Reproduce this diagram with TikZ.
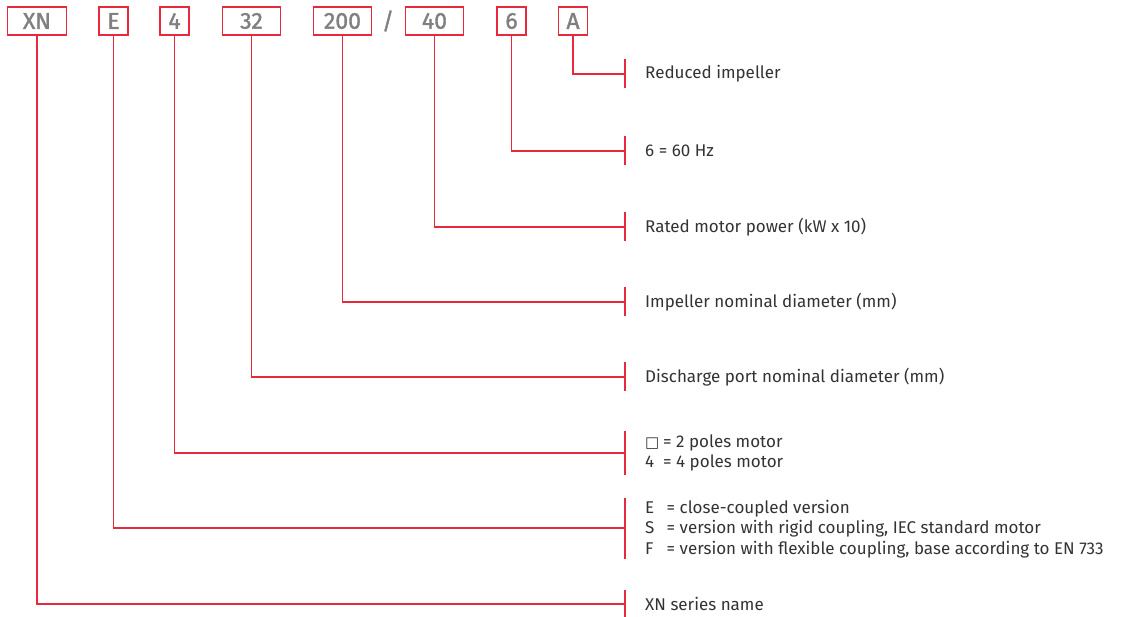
\documentclass[tikz,border=0pt]{standalone}
\usepackage{fontspec}
\setmainfont{Fira Sans}
\newfontfamily\symfont{DejaVu Sans}
\newfontfamily\codefont[FakeBold=1.5]{Fira Sans}
\definecolor{codered}{HTML}{E8283C}
\definecolor{codegray}{HTML}{808080}
\definecolor{textgray}{HTML}{333333}
\begin{document}
\begin{tikzpicture}[x=1pt,y=-1pt,
  codebox/.style={draw=codered,line width=1.4pt,minimum height=28pt,inner sep=0pt,
    text=codegray,font=\codefont\fontsize{23}{25}\selectfont},
  narrow/.style={codebox,minimum width=29pt},
  wide/.style={codebox,minimum width=58.5pt},
  lbl/.style={anchor=west,align=left,inner sep=0pt,text=textgray,
    font=\fontsize{17}{20.5}\selectfont},
  conn/.style={draw=codered,line width=1.4pt},
]
\useasboundingbox (0,0) rectangle (1122,617);
% code boxes
\node[wide]   (xn)  at (37,21)    {XN};
\node[narrow] (e)   at (113.5,21) {E};
\node[narrow] (p4)  at (174.5,21) {4};
\node[wide]   (d32) at (251.5,21) {32};
\node[wide]   (d200) at (342.5,21) {200};
\node[text=codegray,font=\codefont\fontsize{23}{25}\selectfont,inner sep=0pt] (sl) at (388,21) {/};
\node[wide]   (k40) at (434.5,21) {40};
\node[narrow] (hz)  at (511.5,21) {6};
\node[narrow] (ra)  at (573,21)   {A};
% labels
\node[lbl] (la)  at (645,74)  {Reduced impeller};
\node[lbl] (lhz) at (645,151) {6 = 60 Hz};
\node[lbl] (lk)  at (645,227) {Rated motor power (kW x 10)};
\node[lbl] (ld2) at (645,302) {Impeller nominal diameter (mm)};
\node[lbl] (ld3) at (645,377) {Discharge port nominal diameter (mm)};
\node[lbl] (lp)  at (645,453) {\makebox[18pt][l]{{\symfont\fontsize{15}{18}\selectfont □}}= 2 poles motor\\\makebox[18pt][l]{4}= 4 poles motor};
\node[lbl] (le)  at (645,529) {\makebox[21.5pt][l]{E}= close-coupled version\\\makebox[21.5pt][l]{S}= version with rigid coupling, IEC standard motor\\\makebox[21.5pt][l]{F}= version with flexible coupling, base according to EN 733};
\node[lbl] (lxn) at (645,604) {XN series name};
% tick coordinates
\foreach \n/\y/\h in {a/74/14.5, hz/151/14.5, k/227/14.5, d2/302/14.5, d3/377/14.5, p/453/22, e/528/30.5, xn/604/14.5}{
  \coordinate (t\n) at (625,\y);
  \coordinate (t\n1) at (625,\y-\h);
  \coordinate (t\n2) at (625,\y+\h);
  \draw[conn] (t\n1) -- (t\n2);
}
% connectors
\draw[conn] (ra.south) |- (ta);
\draw[conn] (hz.south) |- (thz);
\draw[conn] (k40.south) |- (tk);
\draw[conn] (d200.south) |- (td2);
\draw[conn] (d32.south) |- (td3);
\draw[conn] (p4.south) |- (tp);
\draw[conn] (e.south) |- (te);
\draw[conn] (xn.south) |- (txn);
\end{tikzpicture}
\end{document}
